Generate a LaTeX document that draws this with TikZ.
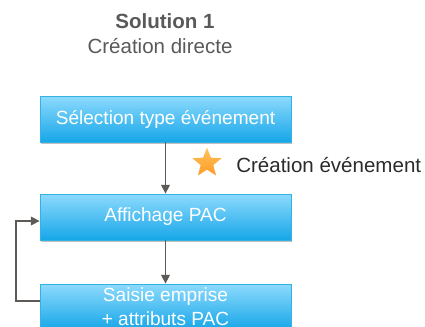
\documentclass[tikz,border=0pt]{standalone}
\usepackage{fontspec}
\setmainfont{Liberation Sans}
\usetikzlibrary{arrows.meta,shapes.geometric,shadows}
\definecolor{boxtop}{HTML}{8DDAFD}
\definecolor{boxbot}{HTML}{16A6E8}
\definecolor{boxedge}{HTML}{33B3E3}
\definecolor{arrowgray}{HTML}{5E5A58}
\definecolor{titlegray}{HTML}{595959}
\definecolor{labeldark}{HTML}{2B2B2B}
\definecolor{startop}{HTML}{FFC45A}
\definecolor{starbot}{HTML}{FF9A2A}
\begin{document}
\begin{tikzpicture}[x=0.75pt,y=-0.75pt,
  flowbox/.style={draw=boxedge, line width=0.6pt, top color=boxtop, bottom color=boxbot,
    minimum width=188.25pt, minimum height=34.5pt, inner sep=0pt, align=center,
    text=white, font=\fontsize{14.3pt}{18pt}\selectfont,
    drop shadow={shadow xshift=0.6pt, shadow yshift=-1.5pt, opacity=0.25, fill=black}},
  flowarrow/.style={draw=arrowgray, line width=1.1pt, -{Triangle[width=6.5pt,length=6.5pt]}},
  titletext/.style={text=titlegray, inner sep=0pt, font=\fontsize{15.4pt}{18pt}\selectfont},
  labeltext/.style={text=labeldark, inner sep=0pt, anchor=west, font=\fontsize{15.4pt}{18pt}\selectfont},
  starmark/.style={star, star points=5, star point ratio=2.3, minimum size=23pt, inner sep=0pt,
    top color=startop, bottom color=starbot, draw=none}
]
\useasboundingbox (0,0) rectangle (425,326);
\node[titletext, font=\fontsize{15.4pt}{18pt}\selectfont\bfseries] (t1) at (165,21) {Solution 1};
\node[titletext] (t2) at (160,46) {Création directe};

\node[flowbox] (b1) at (165.5,119) {Sélection type événement};
\node[flowbox] (b2) at (165.5,217) {Affichage PAC};
\node[flowbox] (b3) at (165.5,307) {Saisie emprise\\+ attributs PAC};

\node[starmark] (st) at (207,163) {};
\node[labeltext] (lab) at (236,165) {Création événement};

\draw[flowarrow] (b1.south) -- (b2.north);
\draw[flowarrow] (b2.south) -- (b3.north);

\coordinate (loopcorner) at (16,301);
\draw[flowarrow] (b3.west |- loopcorner) -- (loopcorner) |- ([yshift=-3pt]b2.west);
\end{tikzpicture}
\end{document}
